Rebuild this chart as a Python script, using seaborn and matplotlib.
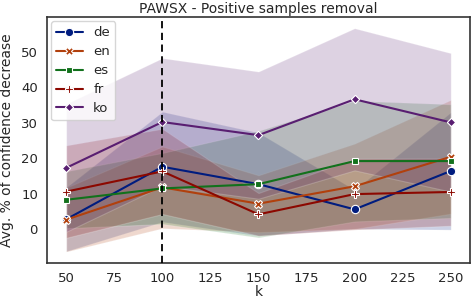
import matplotlib
matplotlib.use("Agg")
import matplotlib.pyplot as plt
import seaborn as sns
import pandas as pd
import numpy as np

# valores
k = [50, 100, 150, 200, 250]
langs = ["de", "en", "es", "fr", "ko"]

de = [2.8, 17.6, 12.7, 5.6, 16.4]
en = [2.7, 11.8, 7.2, 12.1, 20.4]
es = [8.3, 11.5, 12.7, 19.2, 19.2]
fr = [10.6, 16.3, 4.2, 9.9, 10.5]
ko = [17.3, 30.2, 26.5, 36.6, 30.1]

# desvio padrao (faixas)
de_sd = [9.0, 15.5, 14.5, 5.5, 16.5]
en_sd = [9.0, 11.5, 8.0, 12.0, 16.0]
es_sd = [8.0, 10.0, 15.0, 17.0, 16.0]
fr_sd = [13.0, 12.0, 6.0, 10.0, 9.5]
ko_sd = [18.0, 18.0, 17.9, 20.0, 19.5]

medias = [de, en, es, fr, ko]
desvios = [de_sd, en_sd, es_sd, fr_sd, ko_sd]

linhas = []
for lang, vals in zip(langs, medias):
    for kk, v in zip(k, vals):
        linhas.append({"k": kk, "lang": lang, "valor": v})
dados = pd.DataFrame(linhas)

sns.set_style("white")
cores = sns.color_palette("dark", len(langs))

fig = plt.figure(figsize=(4.72, 3.0), dpi=100)
ax = fig.add_axes([0.0996, 0.124, 0.896, 0.819])

# faixas de desvio
for cor, vals, sd in zip(cores, medias, desvios):
    m = np.array(vals)
    s = np.array(sd)
    ax.fill_between(k, m - s, m + s, facecolor=cor, alpha=0.2,
                    edgecolor="white", linewidth=0.8, zorder=1)

sns.lineplot(data=dados, x="k", y="valor", hue="lang", style="lang",
             markers=True, dashes=False, palette=cores, ax=ax,
             markersize=6, markeredgecolor="white", markeredgewidth=0.8,
             linewidth=1.5, zorder=3)

ax.axvline(100, color="black", linestyle=(0, (4, 2.5)), linewidth=1.3, zorder=4)

ax.set_xticks([50, 75, 100, 125, 150, 175, 200, 225, 250])
ax.set_yticks([0, 10, 20, 30, 40, 50])
ax.tick_params(labelsize=9.5, pad=3)
ax.set_title("PAWSX - Positive samples removal", fontsize=10, pad=3)
ax.set_xlabel("k", fontsize=10, labelpad=0)
ax.set_ylabel("Avg. % of confidence decrease", fontsize=10, labelpad=5)
for sp in ax.spines.values():
    sp.set_color(".2")
    sp.set_linewidth(1.2)

ax.legend(loc="upper left", fontsize=9.5, handlelength=2, labelspacing=0.45,
          borderaxespad=0.3)

fig.savefig("out.png", dpi=100)
